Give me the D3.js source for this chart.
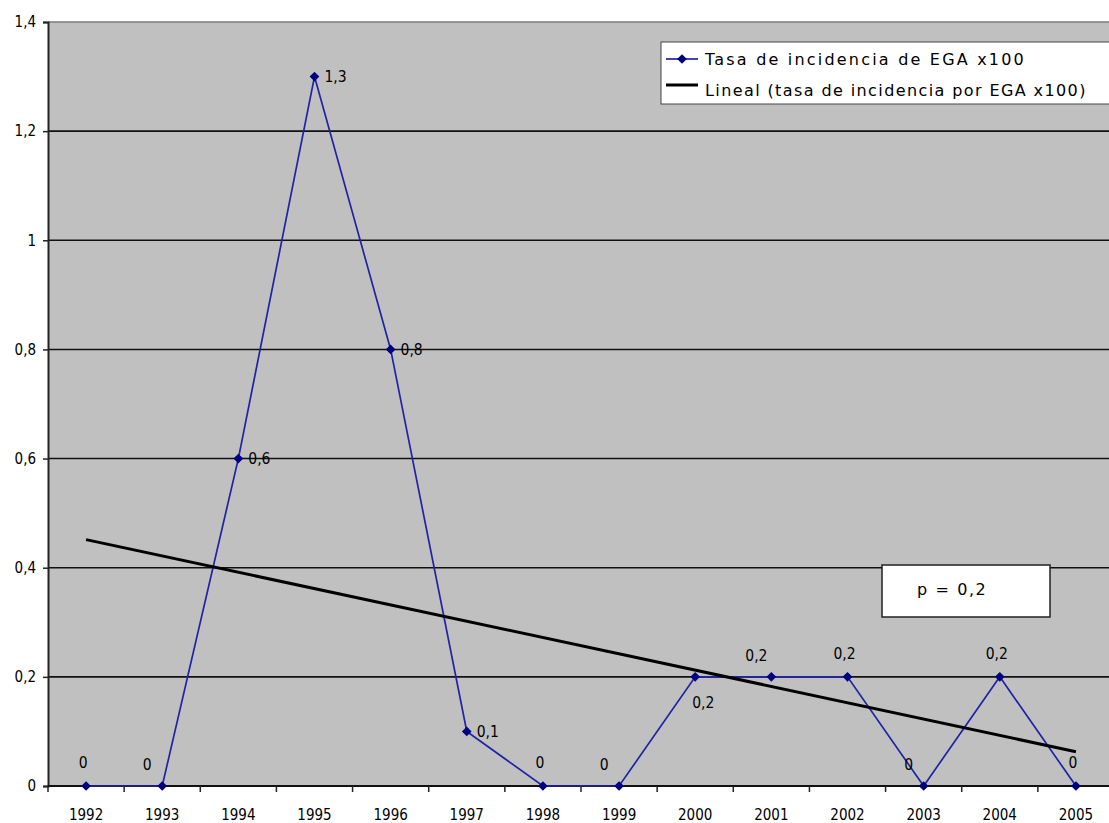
<!DOCTYPE html>
<html>
<head>
<meta charset="utf-8">
<script src="https://cdn.jsdelivr.net/npm/d3@7/dist/d3.min.js"></script>
<style>
  html, body { margin: 0; padding: 0; background: #ffffff; }
  svg { display: block; }
  text { font-family: "DejaVu Sans Condensed", "DejaVu Sans", sans-serif; fill: #000; }
</style>
</head>
<body>
<svg id="chart" width="1109" height="823"></svg>
<script>
// Incidence rate of EGA (x100) by year
const years = ["1992","1993","1994","1995","1996","1997","1998","1999","2000","2001","2002","2003","2004","2005"];
const rates = [0, 0, 0.6, 1.3, 0.8, 0.1, 0, 0, 0.2, 0.2, 0.2, 0, 0.2, 0];
const yTicks = [0, 0.2, 0.4, 0.6, 0.8, 1.0, 1.2, 1.4];
// where each value label sits relative to its point
const labelPlacement = ["above","aboveLeft","right","right","right","right","above","aboveLeft","below","aboveLeft","above","aboveLeft","above","above"];
const seriesName = "Tasa de incidencia de EGA x100";
const trendName = "Lineal (tasa de incidencia por EGA x100)";
const pText = "p = 0,2";

const svg = d3.select("#chart");
const plot = { left: 48, right: 1114, top: 22, bottom: 786 };

const x = d3.scaleBand().domain(years).range([plot.left, plot.right]);
const xc = d => x(d) + x.bandwidth() / 2;
const y = d3.scaleLinear().domain([0, 1.4]).range([plot.bottom, plot.top]);
const fmt = v => d3.format("~g")(+v.toFixed(1)).replace(".", ",");

// plot background
svg.append("rect")
  .attr("x", plot.left).attr("y", plot.top)
  .attr("width", plot.right - plot.left).attr("height", plot.bottom - plot.top)
  .attr("fill", "#c0c0c0");

// top border
svg.append("line")
  .attr("x1", plot.left).attr("x2", plot.right)
  .attr("y1", plot.top).attr("y2", plot.top)
  .attr("stroke", "#7a7a7a").attr("stroke-width", 1.5);

// horizontal gridlines
svg.append("g").selectAll("line")
  .data(yTicks.filter(v => v > 0 && v < 1.4))
  .join("line")
  .attr("x1", plot.left).attr("x2", plot.right)
  .attr("y1", d => y(d)).attr("y2", d => y(d))
  .attr("stroke", "#111").attr("stroke-width", 1.6);

// y axis
const yAxis = d3.axisLeft(y).tickValues(yTicks).tickSize(5).tickPadding(7).tickFormat(fmt);
const gy = svg.append("g").attr("transform", `translate(${plot.left},0)`).call(yAxis);
gy.select(".domain").attr("stroke", "#222").attr("stroke-width", 2);
gy.selectAll(".tick line").attr("stroke", "#222").attr("stroke-width", 1.5);
gy.selectAll(".tick text").attr("font-size", 15).attr("fill", "#000")
  .style("font-family", '"DejaVu Sans Condensed", "DejaVu Sans", sans-serif');

// x axis: ticks at category boundaries
const gx = svg.append("g").attr("transform", `translate(0,${plot.bottom})`);
gx.append("line")
  .attr("x1", plot.left).attr("x2", plot.right)
  .attr("stroke", "#111").attr("stroke-width", 2);
gx.selectAll("line.bound")
  .data(years)
  .join("line").attr("class", "bound")
  .attr("x1", d => x(d)).attr("x2", d => x(d))
  .attr("y1", 0).attr("y2", 6)
  .attr("stroke", "#222").attr("stroke-width", 1.5);
gx.selectAll("text")
  .data(years)
  .join("text")
  .attr("x", d => xc(d)).attr("y", 34)
  .attr("text-anchor", "middle")
  .attr("font-size", 15)
  .text(d => d);

// linear trend (least squares over category index)
const n = rates.length;
const idx = d3.range(1, n + 1);
const mx = d3.mean(idx), my = d3.mean(rates);
const slope = d3.sum(idx, (t, i) => (t - mx) * (rates[i] - my)) / d3.sum(idx, t => (t - mx) ** 2);
const icpt = my - slope * mx;
const trend = idx.map(t => icpt + slope * t);

// series line
const line = d3.line().x((d, i) => xc(years[i])).y(d => y(d));
svg.append("path")
  .datum(rates)
  .attr("d", line)
  .attr("fill", "none")
  .attr("stroke", "#2222a6")
  .attr("stroke-width", 1.7);

// trend line
svg.append("path")
  .datum([trend[0], trend[n - 1]])
  .attr("d", d3.line().x((d, i) => xc(years[i === 0 ? 0 : n - 1])).y(d => y(d)))
  .attr("fill", "none")
  .attr("stroke", "#000")
  .attr("stroke-width", 3);

// diamond markers
const diamond = d3.symbol().type(d3.symbolDiamond2).size(60);
svg.append("g").selectAll("path")
  .data(rates)
  .join("path")
  .attr("transform", (d, i) => `translate(${xc(years[i])},${y(d)})`)
  .attr("d", diamond)
  .attr("fill", "#000080");

// value labels
const offsets = {
  above: [-3, -23],
  aboveLeft: [-15, -21],
  right: [21, 0],
  below: [8, 26]
};
svg.append("g").selectAll("text")
  .data(rates)
  .join("text")
  .attr("x", (d, i) => xc(years[i]) + offsets[labelPlacement[i]][0])
  .attr("y", (d, i) => y(d) + offsets[labelPlacement[i]][1])
  .attr("dy", "0.35em")
  .attr("text-anchor", "middle")
  .attr("font-size", 15.5)
  .text(d => fmt(d));

// legend
const lg = svg.append("g");
lg.append("rect")
  .attr("x", 661).attr("y", 42).attr("width", 470).attr("height", 62)
  .attr("fill", "#fff").attr("stroke", "#444").attr("stroke-width", 1);
lg.append("line")
  .attr("x1", 666).attr("x2", 698).attr("y1", 59).attr("y2", 59)
  .attr("stroke", "#2222a6").attr("stroke-width", 1.7);
lg.append("path")
  .attr("transform", "translate(682,59)")
  .attr("d", diamond).attr("fill", "#000080");
lg.append("text")
  .attr("x", 705).attr("y", 59).attr("dy", "0.35em")
  .attr("font-size", 16)
  .attr("letter-spacing", 2.2)
  .style("font-family", '"DejaVu Sans", sans-serif')
  .text(seriesName);
lg.append("line")
  .attr("x1", 666).attr("x2", 698).attr("y1", 85).attr("y2", 85)
  .attr("stroke", "#000").attr("stroke-width", 3);
lg.append("text")
  .attr("x", 705).attr("y", 90).attr("dy", "0.35em")
  .attr("font-size", 16)
  .attr("letter-spacing", 1.4)
  .style("font-family", '"DejaVu Sans", sans-serif')
  .text(trendName);

// p-value box
svg.append("rect")
  .attr("x", 882).attr("y", 565).attr("width", 168).attr("height", 52)
  .attr("fill", "#fff").attr("stroke", "#222").attr("stroke-width", 1.5);
svg.append("text")
  .attr("x", 917).attr("y", 589).attr("dy", "0.35em")
  .attr("font-size", 16)
  .attr("letter-spacing", 1.6)
  .style("font-family", '"DejaVu Sans", sans-serif')
  .text(pText);
</script>
</body>
</html>
